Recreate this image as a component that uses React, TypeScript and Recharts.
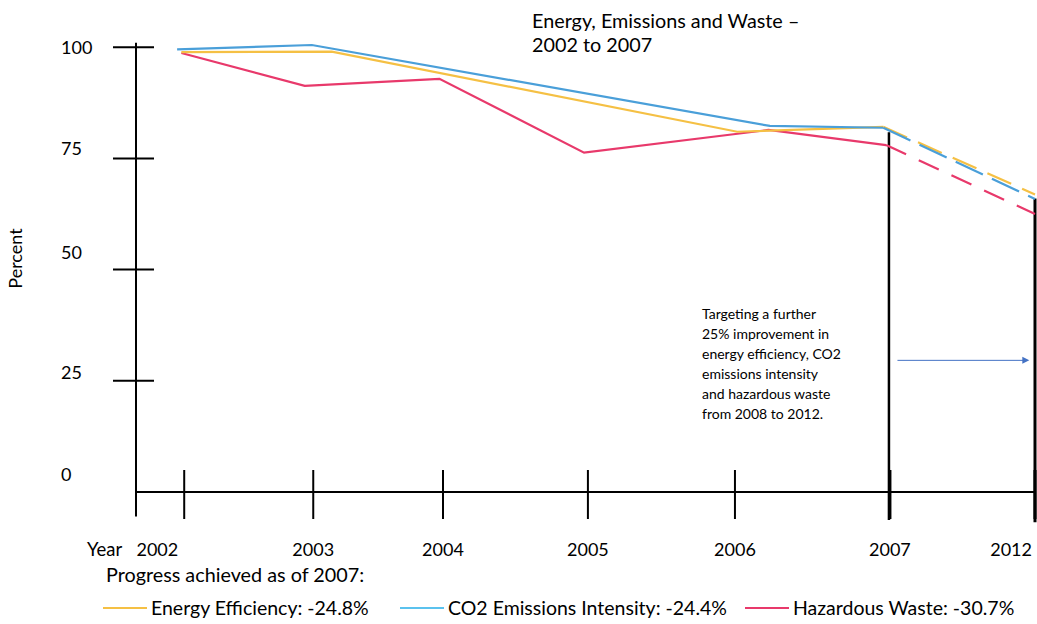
import React from 'react';
import { ComposedChart, Line, XAxis, YAxis, ReferenceLine } from 'recharts';

// x positions are in "year slots": 2002 = 0 ... 2012 = 6 (hand-drawn, uneven)
const yearLabels = ['2002', '2003', '2004', '2005', '2006', '2007', '2012'];
const yearPos = [0, 0.91, 1.825, 2.847, 3.884, 4.977, 6];
const percentTicks = [0, 25, 50, 75, 100];

const energyPos = [-0.02, 1.04, 3.9, 4.93];
const energyVals = [98.9, 99.0, 81.0, 82.1];
const energyTarget = 66.9;

const co2Pos = [-0.05, 0.9, 4.13, 4.93];
const co2Vals = [99.5, 100.5, 82.3, 81.9];
const co2Target = 65.9;

const wastePos = [-0.02, 0.85, 1.8, 2.82, 4.12, 4.95];
const wasteVals = [98.7, 91.3, 92.9, 76.3, 81.4, 78.0];
const wasteTarget = 62.5;

const targetPos = 6;

const legendItems = [
  { label: 'Energy Efficiency: -24.8%', color: '#F5C044', left: 103 },
  { label: 'CO2 Emissions Intensity: -24.4%', color: '#5BC2EE', left: 400 },
  { label: 'Hazardous Waste: -30.7%', color: '#E8396B', left: 745 },
];

const noteLines = [
  'Targeting a further',
  '25% improvement in',
  'energy efficiency, CO2',
  'emissions intensity',
  'and hazardous waste',
  'from 2008 to 2012.',
];

const FONT = 'Lato, "Open Sans", sans-serif';
const X_MIN = -0.34;
// hand-drawn labels sit a little above their tick marks
const labelNudge: Record<number, number> = { 100: 0, 75: -10, 50: -17, 25: -8, 0: -18 };

const toPoints = (pos: number[], vals: number[]) => pos.map((p, i) => ({ pos: p, v: vals[i] }));
const toTarget = (pos: number[], vals: number[], target: number) => [
  { pos: pos[pos.length - 1], v: vals[vals.length - 1] },
  { pos: targetPos, v: target },
];

const series = [
  { key: 'waste', color: '#E8396B', solid: toPoints(wastePos, wasteVals), dashed: toTarget(wastePos, wasteVals, wasteTarget), dash: '22 14' },
  { key: 'energy', color: '#F5C044', solid: toPoints(energyPos, energyVals), dashed: toTarget(energyPos, energyVals, energyTarget), dash: '26 12' },
  { key: 'co2', color: '#4A9FD9', solid: toPoints(co2Pos, co2Vals), dashed: toTarget(co2Pos, co2Vals, co2Target), dash: '30 10' },
];

const YearTick = (props: any) => {
  const { x, y, payload } = props;
  const i = yearPos.indexOf(payload.value);
  const last = i === yearLabels.length - 1;
  const thick = i >= yearLabels.length - 2;
  let anchor: 'middle' | 'end' = 'middle';
  let tx = x;
  if (i === 0) { anchor = 'end'; tx = x - 6; }
  if (last) { anchor = 'end'; tx = x - 3; }
  return (
    <g>
      <line x1={x} x2={x} y1={y - 22} y2={y + 27} stroke="#000" strokeWidth={thick ? 3 : 2} />
      {i === 0 && (
        <text x={x - 62} y={y + 64} textAnchor="end" fontSize={18.5} fontFamily={FONT} fill="#000">Year</text>
      )}
      <text x={tx} y={y + 64} textAnchor={anchor} fontSize={18} fontFamily={FONT} fill="#000">{yearLabels[i]}</text>
    </g>
  );
};

const PercentTick = (props: any) => {
  const { x, y, payload } = props;
  return (
    <g>
      {payload.value > 0 && <line x1={x - 23} x2={x + 18} y1={y} y2={y} stroke="#000" strokeWidth={2} />}
      <text x={x - 75} y={y + (labelNudge[payload.value] ?? 0) + 6.5} fontSize={18} fontFamily={FONT} fill="#000">
        {payload.value}
      </text>
    </g>
  );
};

const Arrow = (props: any) => {
  const { x1, y1, x2, y2 } = props;
  return (
    <g>
      <line x1={x1} y1={y1} x2={x2 - 5} y2={y2} stroke="#4472C4" strokeWidth={1} />
      <polygon points={`${x2},${y2} ${x2 - 7},${y2 - 3.5} ${x2 - 7},${y2 + 3.5}`} fill="#4472C4" />
    </g>
  );
};

export default function App() {
  return (
    <div style={{ position: 'absolute', left: 0, top: 0, width: 1037, height: 624, fontFamily: FONT }}>
      <ComposedChart width={1037} height={624} margin={{ top: 45, right: 2, bottom: 92, left: 0 }}>
        <XAxis
          type="number"
          dataKey="pos"
          domain={[X_MIN, targetPos]}
          ticks={yearPos}
          tick={<YearTick />}
          tickSize={0}
          tickMargin={0}
          height={40}
          axisLine={{ stroke: '#000', strokeWidth: 2 }}
          interval={0}
        />
        <YAxis
          type="number"
          domain={[0, 100]}
          ticks={percentTicks}
          tick={<PercentTick />}
          tickSize={0}
          tickMargin={0}
          width={136}
          axisLine={false}
          interval={0}
          label={(p: any) => {
            const vb = p.viewBox || { x: 0, y: 45, height: 447 };
            const cx = 22;
            const cy = vb.y + vb.height / 2 - 10;
            return (
              <text x={cx} y={cy} transform={`rotate(-90 ${cx} ${cy})`} textAnchor="middle" fontSize={18} fontFamily={FONT} fill="#000">
                Percent
              </text>
            );
          }}
        />
        <ReferenceLine
          segment={[{ x: X_MIN, y: 101 }, { x: X_MIN, y: -5.5 }]}
          stroke="#000"
          strokeWidth={2}
          ifOverflow="visible"
        />
        <ReferenceLine
          segment={[{ x: 4.97, y: 80.9 }, { x: 4.97, y: -6.3 }]}
          stroke="#000"
          strokeWidth={2.5}
          ifOverflow="visible"
        />
        <ReferenceLine
          segment={[{ x: targetPos, y: 66 }, { x: targetPos, y: -6.8 }]}
          stroke="#000"
          strokeWidth={3}
          ifOverflow="visible"
        />
        <ReferenceLine
          segment={[{ x: 5.03, y: 29.6 }, { x: 5.96, y: 29.6 }]}
          shape={<Arrow />}
          ifOverflow="visible"
        />
        {series.map((s) => (
          <Line
            key={s.key + '-solid'}
            data={s.solid}
            dataKey="v"
            stroke={s.color}
            strokeWidth={2.2}
            dot={false}
            activeDot={false}
            type="linear"
            isAnimationActive={false}
          />
        ))}
        {series.map((s) => (
          <Line
            key={s.key + '-dash'}
            data={s.dashed}
            dataKey="v"
            stroke={s.color}
            strokeWidth={2.2}
            strokeDasharray={s.dash}
            dot={false}
            activeDot={false}
            type="linear"
            isAnimationActive={false}
          />
        ))}
      </ComposedChart>

      <div style={{ position: 'absolute', left: 532, top: 8, fontSize: 19.8, lineHeight: '24px', color: '#000', whiteSpace: 'nowrap' }}>
        Energy, Emissions and Waste –<br />2002 to 2007
      </div>

      <div style={{ position: 'absolute', left: 702, top: 304, fontSize: 14, lineHeight: '20px', color: '#000', whiteSpace: 'nowrap' }}>
        {noteLines.map((l) => (
          <div key={l}>{l}</div>
        ))}
      </div>

      <div style={{ position: 'absolute', left: 106, top: 562, fontSize: 19.8, lineHeight: '24px', color: '#000', whiteSpace: 'nowrap' }}>
        Progress achieved as of 2007:
      </div>
      {legendItems.map((it) => (
        <div
          key={it.label}
          style={{ position: 'absolute', left: it.left, top: 596, display: 'flex', alignItems: 'center', fontSize: 19.5, lineHeight: '24px', color: '#000', whiteSpace: 'nowrap' }}
        >
          <span style={{ display: 'inline-block', width: 44, height: 2, background: it.color, marginRight: 4 }} />
          <span>{it.label}</span>
        </div>
      ))}
    </div>
  );
}
